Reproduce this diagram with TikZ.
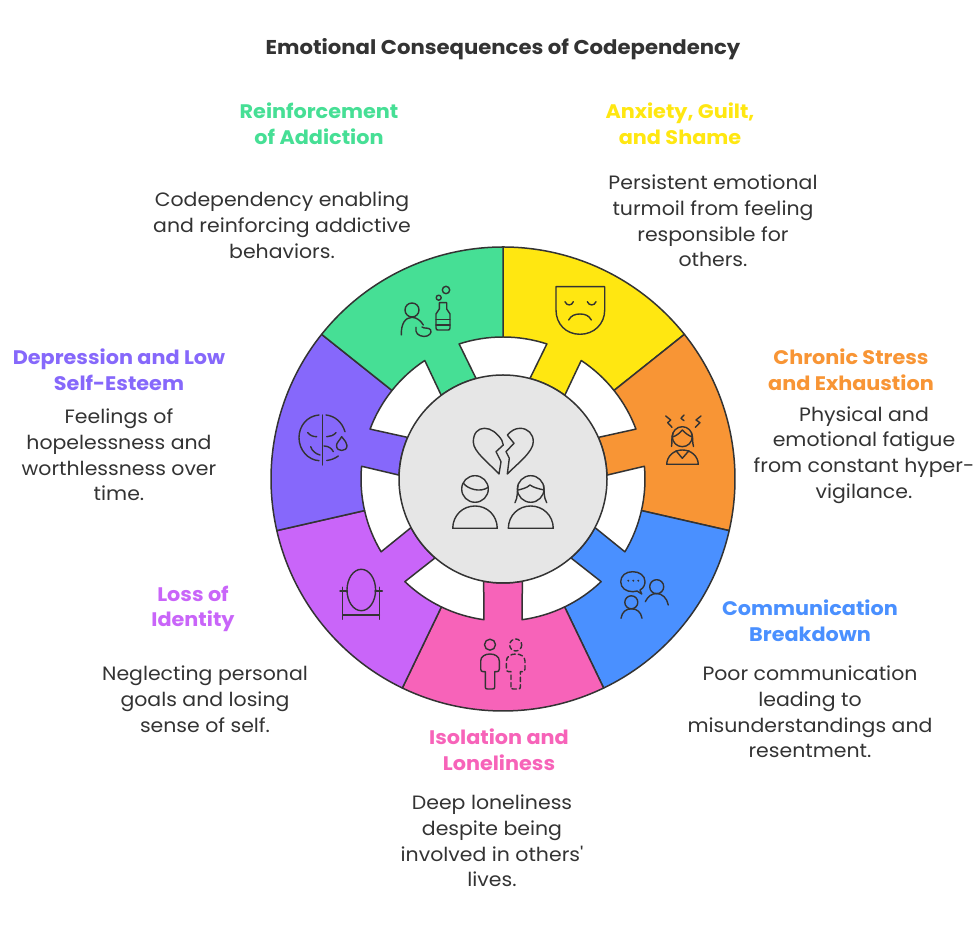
\documentclass[tikz,border=0pt]{standalone}
\usepackage{fontspec}
\setmainfont{Poppins}[FakeStretch=1.06]
\newfontfamily\plainface{Poppins}[FakeStretch=1.06]
\definecolor{ink}{HTML}{333333}
\definecolor{cy}{HTML}{FFE711}
\definecolor{co}{HTML}{F89535}
\definecolor{cb}{HTML}{4A90FF}
\definecolor{cp}{HTML}{F763B9}
\definecolor{cu}{HTML}{C965F9}
\definecolor{cv}{HTML}{8668FB}
\definecolor{cg}{HTML}{46DF95}
\definecolor{cgrey}{HTML}{E6E6E6}
\tikzset{
  body/.style={align=center,text=ink,inner sep=0pt,font=\fontsize{19.3}{25.8}\selectfont},
  head/.style={align=center,inner sep=0pt,font=\fontsize{19.6}{25.8}\selectfont\bfseries},
  titl/.style={align=center,text=ink,inner sep=0pt,font=\fontsize{20}{24}\selectfont\bfseries},
  ring/.style={draw=ink,line width=1.5pt,line join=round},
  ico/.style={draw=ink,line width=1.4pt,line cap=round,line join=round},
}
\begin{document}
\begin{tikzpicture}[x=1pt,y=1pt]
\useasboundingbox (0,0) rectangle (980,931);
\fill[white] (0,0) rectangle (980,931);
% wheel: centre (503,452) in y-up units
\begin{scope}[shift={(503,452)}]
\foreach \start/\col in {90/cy,38.571/co,-12.857/cb,-64.286/cp,-115.714/cu,-167.143/cv,141.429/cg}{
  \pgfmathsetmacro{\stop}{\start-51.4286}
  \path[fill=\col,ring]
    (\start:232) arc[start angle=\start,end angle=\stop,radius=232]
    -- (\stop:142) arc[start angle=\stop,end angle=\stop+18,radius=142]
    -- (\stop+15:104) arc[start angle=\stop+15,end angle=\start-15,radius=104]
    -- (\start-18:142) arc[start angle=\start-18,end angle=\start,radius=142]
    -- cycle;
}
\node[circle,fill=cgrey,draw=ink,line width=1.5pt,minimum size=208pt,inner sep=0pt] (hub) at (0,0) {};
\end{scope}
% icons, drawn in reference pixel coordinates
\begin{scope}[shift={(0,931)},yscale=-1]
% green
\draw[ico] (412,310) circle (7);
\draw[ico] (401.3,335) .. controls (401,324) and (405,317.5) .. (412,317.3) .. controls (417,317.5) and (421,321) .. (423.3,325);
\draw[ico] (416,327.3) .. controls (415,333) and (418,336) .. (424,336.5) .. controls (429,336.5) and (432,333) .. (430.7,330) .. controls (429,327) and (424,329) .. (422,327);
\draw[ico] (439.3,302.7) -- (446.7,302.7) -- (446.7,309) -- (450,314) -- (450,328) .. controls (450,330) and (449,330) .. (448,330) -- (438,330) .. controls (437,330) and (436,330) .. (436,328) -- (436,314) -- (439.3,309) -- cycle;
\draw[ico] (436,319.3) -- (450,319.3) (436,325) -- (450,325);
\draw[ico] (438.7,297.7) circle (2.5) (446,290) circle (3.7);
% yellow
\draw[ico] (556,286.7) -- (604.7,286.7) -- (604.7,310) .. controls (604.7,324) and (594,334.3) .. (580,334.3) .. controls (566,334.3) and (556,324) .. (556,310) -- cycle;
\draw[ico] (565,301.7) .. controls (566.5,306) and (572,306) .. (573.3,301.7);
\draw[ico] (587.3,301.7) .. controls (589,306) and (594.5,306) .. (596,301.7);
\draw[ico] (568.7,320) .. controls (571,315.5) and (575,314) .. (580,314) .. controls (585,314) and (589,315.5) .. (591.3,320);
% orange
\draw[ico] (682.3,436.7) circle (10);
\draw[ico] (672.5,437) .. controls (676,436) and (680,433) .. (682.3,430) .. controls (685,433) and (689,436) .. (692.5,437);
\draw[ico] (673,433) .. controls (671,438) and (672.5,442) .. (671.5,446.5);
\draw[ico] (691.5,433) .. controls (693.5,438) and (692,442) .. (693.5,446.5);
\draw[ico] (666.7,464.3) .. controls (667,456) and (674,450) .. (682.3,450) .. controls (691,450) and (698,456) .. (698.3,464.3) -- cycle;
\draw[ico] (676,450.7) -- (682.3,458.3) -- (689,450.7);
\draw[ico] (665.7,416) -- (670.7,420) -- (667.7,422.7) -- (672,427.3);
\draw[ico] (684,415) -- (681,418.3) -- (684,420.7);
\draw[ico] (701,416) -- (696,420) -- (700,422.7) -- (695.3,427.3);
% blue
\draw[ico] (641.7,594) -- (640,590) .. controls (644,588) and (645,584) .. (645,581.7) .. controls (645,575.5) and (639.5,571.7) .. (632.7,571.7) .. controls (626,571.7) and (620.7,575.5) .. (620.7,581.7) .. controls (620.7,588) and (626,591.7) .. (632.7,591.7) .. controls (635,591.7) and (636,591) .. (637,591) -- cycle;
\fill[ink] (628.3,580.7) circle (1.1) (633.3,580.7) circle (1.1) (638.3,580.7) circle (1.1);
\draw[ico] (656.7,586.7) circle (7);
\draw[ico] (645.3,601.7) .. controls (648,596) and (652,593.5) .. (656.7,593.5) .. controls (662,593.5) and (667,598) .. (668.3,605);
\draw[ico] (631.3,602.3) circle (6.5);
\draw[ico] (621,618.3) .. controls (622,612) and (626,608.8) .. (631.3,608.8) .. controls (637,608.8) and (641,612) .. (642,618.3);
% pink
\draw[ico] (490,644.7) circle (5.5);
\draw[ico] (485.3,687) -- (485.3,671.7) -- (483,671.7) .. controls (481.5,671.7) and (480.7,670.5) .. (480.7,669) -- (480.7,661) .. controls (480.7,656.5) and (485,654) .. (490,654) .. controls (495,654) and (499.3,656.5) .. (499.3,661) -- (499.3,669) .. controls (499.3,670.5) and (498.5,671.7) .. (497,671.7) -- (494.7,671.7) -- (494.7,687) .. controls (494.7,688.5) and (494,689) .. (492.5,689) -- (487.5,689) .. controls (486,689) and (485.3,688.5) .. (485.3,687);
\begin{scope}[xshift=25.7pt]
\draw[ico,dash pattern=on 4pt off 3pt] (490,645) circle (6);
\draw[ico,dash pattern=on 4.5pt off 3pt] (485.3,687) -- (485.3,671.7) -- (483,671.7) .. controls (481.5,671.7) and (480.7,670.5) .. (480.7,669) -- (480.7,661) .. controls (480.7,656.5) and (485,654) .. (490,654) .. controls (495,654) and (499.3,656.5) .. (499.3,661) -- (499.3,669) .. controls (499.3,670.5) and (498.5,671.7) .. (497,671.7) -- (494.7,671.7) -- (494.7,687) .. controls (494.7,688.5) and (494,689) .. (492.5,689) -- (487.5,689) .. controls (486,689) and (485.3,688.5) .. (485.3,687);
\end{scope}
% purple
\draw[ico] (361.3,590) ellipse (14.3 and 20.7);
\draw[ico] (342.7,587.3) -- (342.7,619.3) (379.3,587.3) -- (379.3,619.3) (342.7,615) -- (379.3,615);
\draw[ico] (340,591) -- (347.3,591) (375,591) -- (382.3,591);
% violet
\draw[ico] (322.3,415) -- (322.3,465);
\draw[ico] (319,415) .. controls (307,416) and (299,426) .. (299,437.7) .. controls (299,450) and (308,460) .. (319,460.7);
\draw[ico] (326,415) .. controls (335,416) and (342,422) .. (345,431.7);
\draw[ico] (338.3,456) .. controls (335,458.5) and (331,460) .. (326.7,460.5);
\draw[ico] (307.7,432.7) .. controls (310,435.5) and (313,436.7) .. (316.7,436.7);
\draw[ico] (336,432.7) .. controls (333.5,435.5) and (330,436.7) .. (326.7,436.7);
\draw[ico] (310.7,446.7) .. controls (312,451) and (316,454) .. (320,455);
\draw[ico] (324,446) .. controls (329,446) and (332,449) .. (333.3,451.7);
\draw[ico] (341.7,436.7) .. controls (345,441) and (347,443) .. (347,445.5) .. controls (347,449) and (344.5,450.5) .. (341.7,450.5) .. controls (339,450.5) and (336.5,449) .. (336.5,445.5) .. controls (336.5,443) and (339,441) .. (341.7,436.7) -- cycle;
% hub
\draw[ico] (499,474) .. controls (490,464) and (473.3,452) .. (473.3,442) .. controls (473.3,433) and (478,428.3) .. (484.5,428.3) .. controls (491,428.3) and (497,433) .. (501.7,440) -- (503.3,445) -- (496,451.7) -- (501,461.7) -- cycle;
\draw[ico] (507.3,474) -- (509.3,458.3) -- (506,451.7) -- (514,443.3) -- (507.3,435) .. controls (511,431) and (515,428.3) .. (520,428.3) .. controls (528,428.3) and (533.3,434) .. (533.3,441.7) .. controls (533.3,452) and (517,464) .. (507.3,474) -- cycle;
\draw[ico] (475,489) circle (13.3);
\draw[ico] (463.3,483.3) .. controls (468,489) and (480,493) .. (488.3,487.3);
\draw[ico] (452.7,528.3) .. controls (453,515) and (463,506) .. (475,506) .. controls (487,506) and (497,515) .. (497.3,528.3) -- cycle;
\draw[ico] (530.7,489) circle (13.3);
\draw[ico] (518.3,490) .. controls (522,489) and (527,488) .. (530,485) .. controls (534,488) and (540,489) .. (544,490);
\draw[ico] (518,485) .. controls (517,492) and (518,497) .. (515,502.7);
\draw[ico] (543.5,485) .. controls (544.5,492) and (543.5,497) .. (546.7,502.7);
\draw[ico] (508.3,528.3) .. controls (508.6,515) and (518.7,506) .. (530.7,506) .. controls (542.7,506) and (553,515) .. (553.3,528.3) -- cycle;
\end{scope}
% text: centres given in y-up picture units
\node[titl] (title) at (503,882) {Emotional Consequences of Codependency};
\node[head,text=cg] (h1) at (319,807) {Reinforcement\\of Addiction};
\node[head,text=cy] (h2) at (680,807) {Anxiety, Guilt,\\and Shame};
\node[head,text=co] (h3) at (851,561) {Chronic Stress\\and Exhaustion};
\node[head,text=cb] (h4) at (810,310) {Communication\\Breakdown};
\node[head,text=cp] (h5) at (499,181) {Isolation and\\Loneliness};
\node[head,text=cu] (h6) at (193,322) {Loss of\\Identity};
\node[head,text=cv] (h7) at (119,561) {Depression and Low\\Self-Esteem};
\node[body] (b1) at (282,706) {Codependency enabling\\and reinforcing addictive\\behaviors.};
\node[body] (b2) at (713,710) {Persistent emotional\\turmoil from feeling\\responsible for\\others.};
\node[body] (b3) at (864,476) {Physical and\\emotional fatigue\\from constant hyper-\\vigilance.};
\node[body] (b4) at (810,219) {Poor communication\\leading to\\misunderstandings and\\resentment.};
\node[body] (b5) at (492,90) {Deep loneliness\\despite being\\{\plainface involved in others'}\\lives.};
\node[body] (b6) at (205,232) {Neglecting personal\\goals and losing\\sense of self.};
\node[body] (b7) at (119,476) {Feelings of\\hopelessness and\\worthlessness over\\time.};
\end{tikzpicture}
\end{document}
